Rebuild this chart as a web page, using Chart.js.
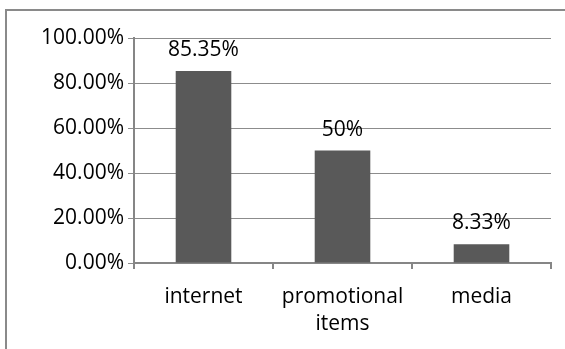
<!DOCTYPE html>
<html>
<head>
<meta charset="utf-8">
<script src="https://cdn.jsdelivr.net/npm/chart.js@4/dist/chart.umd.min.js"></script>
<style>
  html, body { margin: 0; padding: 0; background: #ffffff; }
  #wrap { position: relative; width: 565px; height: 349px; }
</style>
</head>
<body>
<div id="wrap"><canvas id="c" width="565" height="349"></canvas></div>
<script>
// ---- data ----
const categories = ['internet', ['promotional', 'items'], 'media'];
const values = [85.35, 50, 8.33];
const yTicks = [0, 20, 40, 60, 80, 100];

const FONT = "'Open Sans', sans-serif";
const AXIS = '#868686';
const GRID = '#8c8c8c';

const framePlugin = {
  id: 'frame',
  beforeDraw(chart) {
    const ctx = chart.ctx;
    ctx.save();
    ctx.fillStyle = '#ffffff';
    ctx.fillRect(0, 0, chart.width, chart.height);
    ctx.strokeStyle = '#8a8a8a';
    ctx.lineWidth = 2;
    ctx.beginPath();
    ctx.moveTo(6, chart.height + 2);
    ctx.lineTo(6, 10);
    ctx.lineTo(chart.width + 2, 10);
    ctx.stroke();
    ctx.restore();
  }
};

const valueLabelPlugin = {
  id: 'valueLabels',
  afterDatasetsDraw(chart) {
    const ctx = chart.ctx;
    const meta = chart.getDatasetMeta(0);
    ctx.save();
    ctx.font = '21px ' + FONT;
    ctx.fillStyle = '#000000';
    ctx.textAlign = 'center';
    ctx.textBaseline = 'alphabetic';
    meta.data.forEach((bar, i) => {
      ctx.fillText(String(values[i]) + '%', bar.x, bar.y - 15);
    });
    ctx.restore();
  }
};

new Chart(document.getElementById('c'), {
  type: 'bar',
  data: {
    labels: categories,
    datasets: [{
      data: values,
      backgroundColor: '#595959',
      borderWidth: 0,
      categoryPercentage: 1.0,
      barPercentage: 0.4
    }]
  },
  options: {
    responsive: false,
    animation: false,
    devicePixelRatio: 1,
    layout: { padding: { left: 0, top: 38, right: 14, bottom: 0 } },
    plugins: {
      legend: { display: false },
      tooltip: { enabled: false },
      title: { display: false }
    },
    scales: {
      x: {
        grid: {
          display: true,
          drawOnChartArea: false,
          drawTicks: true,
          tickLength: 6,
          color: AXIS,
          lineWidth: 2,
          offset: true
        },
        border: { display: true, color: AXIS, width: 2 },
        ticks: {
          color: '#000000',
          font: { family: FONT, size: 21, lineHeight: 1.3 },
          padding: 14,
          maxRotation: 0,
          autoSkip: false
        },
        afterFit(scale) { scale.height = 86; }
      },
      y: {
        min: 0,
        max: 100,
        afterBuildTicks(scale) { scale.ticks = yTicks.map(v => ({ value: v })); },
        grid: {
          color: GRID,
          lineWidth: 1,
          drawTicks: true,
          tickLength: 6
        },
        border: { display: true, color: AXIS, width: 2 },
        ticks: {
          color: '#000000',
          font: { family: FONT, size: 21 },
          padding: 4,
          callback: (v) => Number(v).toFixed(2) + '%'
        },
        afterFit(scale) { scale.width = 134; }
      }
    }
  },
  plugins: [framePlugin, valueLabelPlugin]
});
</script>
</body>
</html>
